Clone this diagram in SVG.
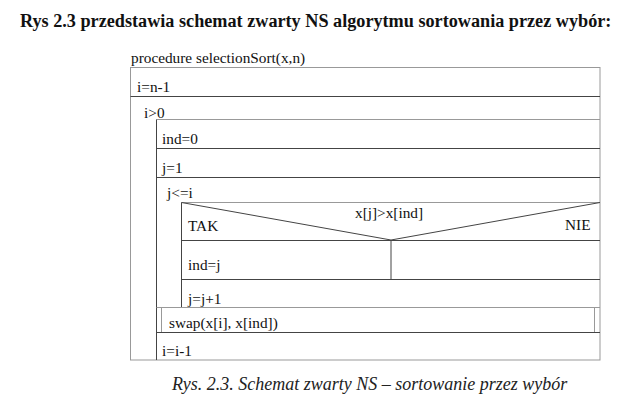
<svg xmlns="http://www.w3.org/2000/svg" width="635" height="405" viewBox="0 0 635 405">
<style>
text{font-family:"Liberation Serif","Times New Roman",serif;font-size:15.3px;fill:#111}
.t{font-weight:bold;font-size:18.2px}
.c{font-style:italic;font-size:18px;fill:#222}
.ln{stroke:#444;stroke-width:1;fill:none}
.lt{stroke:#999;stroke-width:1;fill:none}
</style>
<rect width="635" height="405" fill="#fff"/>
<text class="t" x="20" y="27">Rys 2.3 przedstawia schemat zwarty NS algorytmu sortowania przez wybór:</text>
<text x="131" y="63">procedure selectionSort(x,n)</text>
<g id="connectors">
<rect class="lt" x="130.5" y="67.5" width="469.5" height="292.5"/>
<line class="ln" x1="130.5" y1="96.5" x2="600" y2="96.5"/>
<line class="lt" x1="156.5" y1="119.5" x2="600" y2="119.5"/>
<line class="ln" x1="156.5" y1="119.5" x2="156.5" y2="360"/>
<line class="ln" x1="156.5" y1="148.5" x2="600" y2="148.5"/>
<line class="ln" x1="156.5" y1="177.5" x2="600" y2="177.5"/>
<line class="lt" x1="181.5" y1="202.5" x2="600" y2="202.5"/>
<line class="ln" x1="181.5" y1="202.5" x2="181.5" y2="307"/>
<line class="ln" x1="181.5" y1="202.5" x2="391" y2="240"/>
<line class="ln" x1="600" y1="202.5" x2="391" y2="240"/>
<line class="ln" x1="181.5" y1="240.5" x2="600" y2="240.5"/>
<line class="ln" x1="391" y1="240.5" x2="391" y2="279"/>
<line class="ln" x1="181.5" y1="279.5" x2="600" y2="279.5"/>
<line class="lt" x1="156.5" y1="307.5" x2="600" y2="307.5"/>
<line class="lt" x1="161.5" y1="307.5" x2="161.5" y2="332"/>
<line class="lt" x1="594.5" y1="307.5" x2="594.5" y2="332"/>
<line class="ln" x1="156.5" y1="332.5" x2="600" y2="332.5"/>
</g>
<g id="n1"><text x="137" y="92">i=n-1</text></g>
<g id="n2"><text x="144" y="118">i&gt;0</text></g>
<g id="n3"><text x="162" y="144">ind=0</text></g>
<g id="n4"><text x="162" y="173">j=1</text></g>
<g id="n5"><text x="167" y="198">j&lt;=i</text></g>
<g id="n6"><text x="355" y="218">x[j]&gt;x[ind]</text><text x="188" y="231">TAK</text><text x="565" y="230">NIE</text></g>
<g id="n7"><text x="188" y="270">ind=j</text></g>
<g id="n8"><text x="188" y="304">j=j+1</text></g>
<g id="n9"><text x="169" y="328">swap(x[i], x[ind])</text></g>
<g id="n10"><text x="162" y="356">i=i-1</text></g>
<text class="c" x="172" y="390">Rys. 2.3. Schemat zwarty NS – sortowanie przez wybór</text>
</svg>
